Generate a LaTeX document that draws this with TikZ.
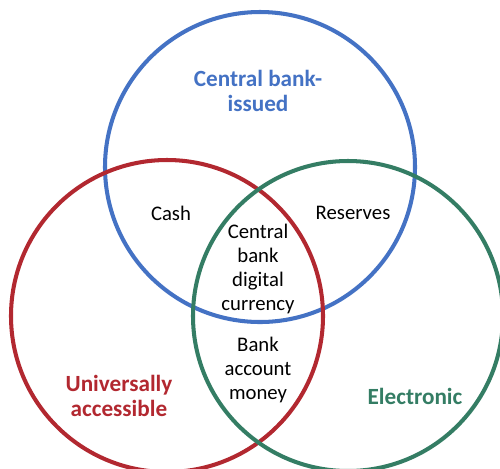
\documentclass[tikz,border=0pt]{standalone}
\usepackage{fontspec}
\setmainfont{Carlito}
\usepackage{tikz}

\definecolor{cbblue}{RGB}{68,114,196}
\definecolor{cbred}{RGB}{178,40,48}
\definecolor{cbgreen}{RGB}{52,125,100}

\begin{document}
\begin{tikzpicture}[x=0.02cm,y=-0.02cm]
		\useasboundingbox (0,0) rectangle (500,468);
		\clip (0,0) rectangle (500,468);

		\begin{scope}[line width=2.3pt]
			\draw [cbblue] (260,167) circle (155);
			\draw [cbred] (167,316) circle (156);
			\draw [cbgreen] (348,316) circle (155);
		\end{scope}

		\begin{scope}[every node/.style={align=center,font=\fontsize{11.8}{13.8}\selectfont}]
			\node [cbblue,font=\bfseries\fontsize{13.2}{14.5}\selectfont] (issued) at (258,91) {Central bank-\\issued};
			\node [cbred,font=\bfseries\fontsize{13.2}{14.5}\selectfont] (access) at (119,396) {Universally\\accessible};
			\node [cbgreen,font=\bfseries\fontsize{13.2}{14.5}\selectfont] (elec) at (415,396) {Electronic};

			\node (cash) at (171,213) {Cash};
			\node (res) at (353,213) {Reserves};
			\node (cbdc) at (258,269) {Central\\bank\\digital\\currency};
			\node (bam) at (258,370) {Bank\\account\\money};
		\end{scope}
		\end{tikzpicture}
\end{document}
